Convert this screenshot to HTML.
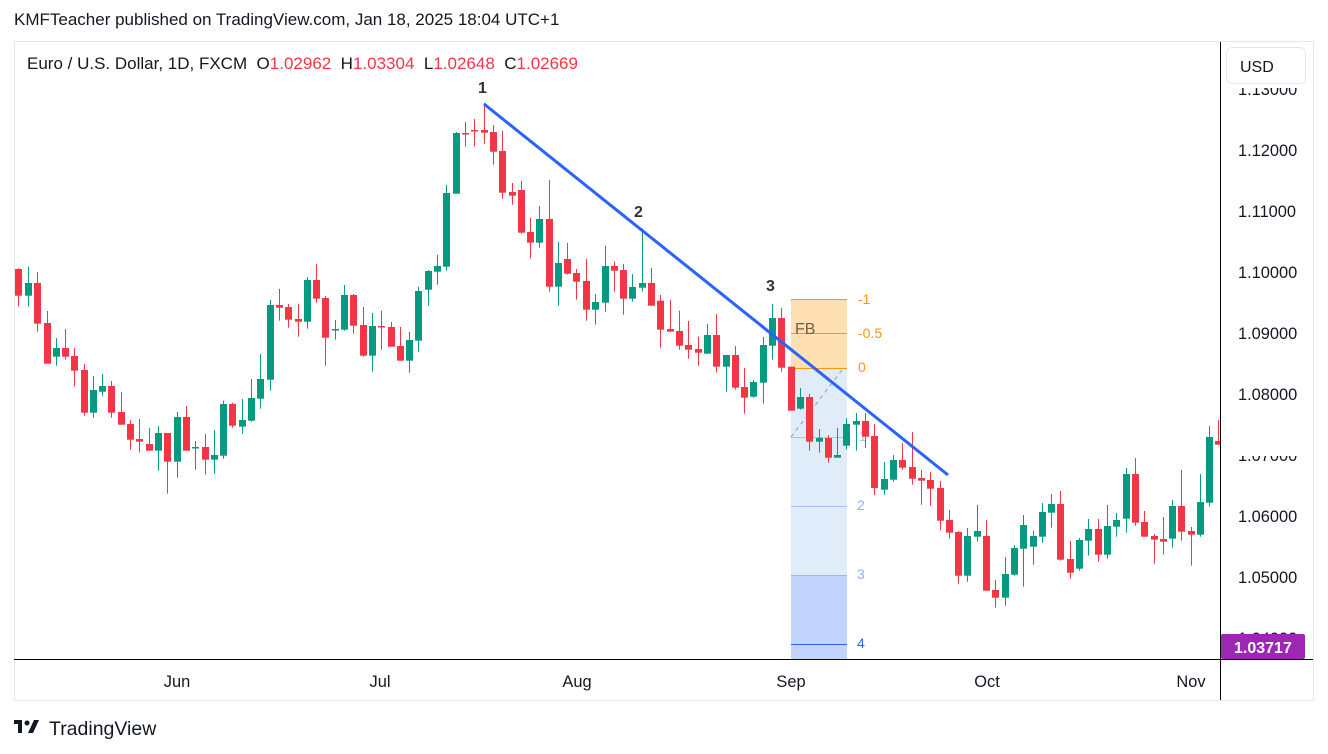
<!DOCTYPE html>
<html><head><meta charset="utf-8">
<style>
html,body{margin:0;padding:0;background:#fff;}
body{width:1328px;height:754px;overflow:hidden;position:relative;font-family:"Liberation Sans",sans-serif;color:#131722;}
.t{position:absolute;white-space:nowrap;}
</style></head>
<body>
<div class="t" style="left:14px;top:10px;font-size:17px;">KMFTeacher published on TradingView.com, Jan 18, 2025 18:04 UTC+1</div>
<svg id="s" width="1328" height="754" style="position:absolute;left:0;top:0" xmlns="http://www.w3.org/2000/svg">
<rect x="14.5" y="41.5" width="1299" height="659" fill="none" stroke="#e6e7ec"/>
<rect x="791" y="299" width="56" height="69" fill="#ffe0b2"/>
<rect x="791" y="368" width="56" height="207" fill="#e1ecfb"/>
<rect x="791" y="575" width="56" height="84" fill="#c3d4fc"/>
<line x1="791" y1="299.5" x2="847" y2="299.5" stroke="#ff9800"/>
<line x1="791" y1="333.5" x2="847" y2="333.5" stroke="#ff9800"/>
<line x1="791" y1="368.5" x2="847" y2="368.5" stroke="#ff9800"/>
<line x1="791" y1="437.5" x2="847" y2="437.5" stroke="#a9c2f5"/>
<line x1="791" y1="506.5" x2="847" y2="506.5" stroke="#a9c2f5"/>
<line x1="791" y1="575.5" x2="847" y2="575.5" stroke="#9ab6f5"/>
<line x1="791" y1="644.5" x2="847" y2="644.5" stroke="#2962ff"/>
<line x1="791" y1="437" x2="842" y2="370" stroke="#9598a1" stroke-dasharray="4,4"/>
<g font-family="Liberation Sans, sans-serif" font-size="14">
<text x="858" y="304" fill="#ff9800">-1</text>
<text x="858" y="338" fill="#ff9800">-0.5</text>
<text x="858" y="372" fill="#ff9800">0</text>
<text x="859" y="441" fill="#a9c2f5">1</text>
<text x="857" y="510" fill="#90b0f0">2</text>
<text x="857" y="579" fill="#90b0f0">3</text>
<text x="857" y="648" fill="#2962ff">4</text>
<text x="795" y="334" fill="#7a5a3a" font-size="16">FB</text>
</g>
<g id="c"></g>
<line x1="484" y1="104" x2="948" y2="475" stroke="#2962ff" stroke-width="3"/>
<g font-family="Liberation Sans, sans-serif" font-size="16" font-weight="bold" fill="#333">
<text x="478" y="93">1</text>
<text x="634" y="217">2</text>
<text x="766" y="291">3</text>
</g>
<rect x="1221" y="42" width="92" height="617" fill="#fff"/>
<line x1="1220.5" y1="42" x2="1220.5" y2="700" stroke="#000"/>
<line x1="14" y1="659.5" x2="1313" y2="659.5" stroke="#000"/>
<g font-family="Liberation Sans, sans-serif" font-size="16.4" fill="#131722">
<text x="1238" y="95">1.13000</text>
<text x="1238" y="156">1.12000</text>
<text x="1238" y="217">1.11000</text>
<text x="1238" y="278">1.10000</text>
<text x="1238" y="339">1.09000</text>
<text x="1238" y="400">1.08000</text>
<text x="1238" y="461">1.07000</text>
<text x="1238" y="522">1.06000</text>
<text x="1238" y="583">1.05000</text>
<text x="1238" y="644">1.04000</text>
</g>
<rect x="1222" y="76" width="90" height="12" fill="#fff"/>
<rect x="1222" y="430" width="90" height="26" fill="#fff"/>
<rect x="1226.5" y="47.5" width="79" height="36" rx="6" fill="#fff" stroke="#e6e7ec"/>
<text x="1240" y="72" font-family="Liberation Sans, sans-serif" font-size="16" fill="#131722">USD</text>
<rect x="1221" y="634" width="84" height="25" rx="2" fill="#9c27b0"/>
<text x="1234" y="653" font-family="Liberation Sans, sans-serif" font-size="16" font-weight="bold" fill="#fff">1.03717</text>
<g font-family="Liberation Sans, sans-serif" font-size="16.4" fill="#131722" text-anchor="middle">
<text x="177" y="687">Jun</text>
<text x="380" y="687">Jul</text>
<text x="577" y="687">Aug</text>
<text x="791" y="687">Sep</text>
<text x="987" y="687">Oct</text>
<text x="1191" y="687">Nov</text>
</g>
<g transform="translate(14,718)" fill="#131722">
<rect x="0" y="2" width="8" height="4"/><rect x="4" y="2" width="4" height="13"/>
<circle cx="13" cy="5" r="2.5"/><polygon points="14,15 20,2 25,2 19,15"/>
</g>
<text x="49" y="735" font-family="Liberation Sans, sans-serif" font-size="19.5" fill="#131722">TradingView</text>
</svg>
<div class="t" style="left:27px;top:54px;font-size:17px;">Euro / U.S. Dollar, 1D, FXCM&nbsp;&nbsp;O<span style="color:#f23645">1.02962</span>&nbsp;&nbsp;H<span style="color:#f23645">1.03304</span>&nbsp;&nbsp;L<span style="color:#f23645">1.02648</span>&nbsp;&nbsp;C<span style="color:#f23645">1.02669</span></div>
<script>
var Z1=[10,250,[[25,'R',57,137,55,170],[55,'G',99,137,50,170],[82,'R',99,221,66,245],[110,'R',219,341,183,341],[139,'G',294,320,264,347],[166,'R',294,320,237,329],[193,'R',318,362,294,410],[223,'R',360,488,342,497],[250,'G',420,488,378,503],[277,'G',408,425,372,437],[304,'R',408,488,393,503],[334,'R',486,524,426,524],[361,'R',522,569,510,599],[388,'R',567,575,507,608],[417,'R',582,602,534,602],[445,'G',549,602,528,662],[472,'R',549,635,549,731],[502,'G',501,635,486,683],[529,'R',501,602,468,602],[556,'G',591,594,573,659],[586,'R',591,629,552,674],[613,'G',615,629,540,671],[640,'G',462,617,452,626],[667,'R',462,527,458,533],[697,'G',510,530,447,551],[724,'G',444,512,387,515],[751,'G',387,446,312,476],[781,'G',165,389,150,422],[808,'R',165,173,117,212],[835,'R',171,209,162,233],[865,'R',207,215,161,260],[892,'G',90,215,81,236]]];
var Z2=[300,90,[[49,'R',570,626,522,638],[76,'R',624,743,618,827],[106,'G',717,720,690,749],[133,'G',615,719,585,722],[160,'R',615,707,612,731],[190,'R',705,797,651,800],[217,'G',708,797,669,845],[244,'R',708,711,662,779],[274,'R',711,770,696,770],[301,'R',768,812,711,812],[328,'G',750,812,726,848],[355,'G',603,752,590,785],[385,'G',543,599,540,647],[412,'G',528,545,494,584],[439,'G',309,530,285,542],[469,'G',129,311,126,311],[496,'R',129,132,96,170],[523,'R',120,123,87,170],[553,'R',120,128,39,161],[580,'R',126,185,105,224],[607,'R',183,308,123,326],[637,'R',306,317,279,344],[664,'R',300,428,273,431],[691,'R',426,458,383,506],[718,'G',387,458,348,473],[748,'R',387,590,270,605],[775,'G',519,590,456,647],[802,'R',507,551,459,554],[829,'R',549,575,537,629],[859,'R',573,659,507,692],[886,'G',636,659,612,704]]];
var Z3=[590,230,[[46,'G',108,218,47,245],[73,'R',108,122,94,185],[100,'R',120,206,102,254],[127,'G',171,206,132,215],[157,'G',159,173,-5,185],[184,'R',159,227,114,227],[211,'R',212,299,195,353],[241,'R',297,305,210,305],[268,'R',303,347,242,359],[295,'R',345,359,273,386],[325,'R',357,368,320,407],[352,'G',315,371,282,371],[379,'R',315,410,252,428],[409,'G',375,410,375,485],[436,'R',375,473,348,479],[463,'R',471,503,414,551],[490,'G',456,500,450,503],[520,'G',345,458,321,521],[547,'G',264,347,222,389],[574,'R',264,413,234,425],[604,'R',410,542,410,542],[631,'G',501,536,474,539],[658,'R',501,635,492,662],[688,'G',624,635,597,668],[715,'R',624,683,615,698],[742,'G',675,683,594,683],[769,'G',582,647,565,659],[799,'G',573,584,549,662],[826,'R',573,620,549,653]]];
var Z4=[880,400,[[-17,'R',108,264,72,285],[13,'G',237,269,186,284],[40,'G',180,239,165,245],[67,'R',180,203,129,209],[97,'R',201,236,96,254],[124,'R',234,242,210,314],[151,'R',240,266,216,317],[181,'R',264,362,243,392],[208,'R',360,398,330,416],[235,'R',396,527,393,551],[262,'G',408,527,384,545],[292,'G',393,410,315,425],[319,'R',408,572,360,572],[346,'R',570,593,540,623],[376,'G',522,593,471,617],[403,'G',444,524,435,527],[430,'G',375,446,345,560],[460,'G',408,440,393,494],[487,'G',336,410,309,428],[514,'G',312,338,282,383],[541,'R',312,479,273,482],[571,'R',477,518,423,536],[598,'G',420,506,414,512],[625,'G',387,422,357,467],[655,'R',387,464,357,485],[682,'G',378,464,315,476],[709,'G',360,380,339,410],[739,'G',222,356,204,398],[766,'R',222,368,174,377],[793,'R',366,410,333,410],[823,'R',408,419,402,491],[850,'R',417,425,351,464],[877,'G',318,416,300,443],[904,'R',318,395,210,422],[934,'R',393,404,381,497],[961,'G',306,404,222,410],[988,'G',111,308,78,320],[1015,'R',123,134,60,134]]];
var h='';
[Z1,Z2,Z3,Z4].forEach(function(z){var ox=z[0],oy=z[1];z[2].forEach(function(c){
var x=ox+c[0]/3,col=c[1]=='G'?'#089981':'#f23645';
var bt=oy+c[2]/3,bb=oy+c[3]/3,wt=oy+c[4]/3,wb=oy+c[5]/3;
var xr=Math.round(x);
h+='<rect x="'+xr+'" y="'+wt.toFixed(1)+'" width="1" height="'+(wb-wt).toFixed(1)+'" fill="'+col+'"/>';
var w=7,bx=xr-3;if(bx+w>1220)w=1220-bx;
h+='<rect x="'+bx+'" y="'+bt.toFixed(1)+'" width="'+w+'" height="'+Math.max(1.5,bb-bt).toFixed(1)+'" fill="'+col+'"/>';
});});
document.getElementById('c').innerHTML=h;
</script>
</body></html>
